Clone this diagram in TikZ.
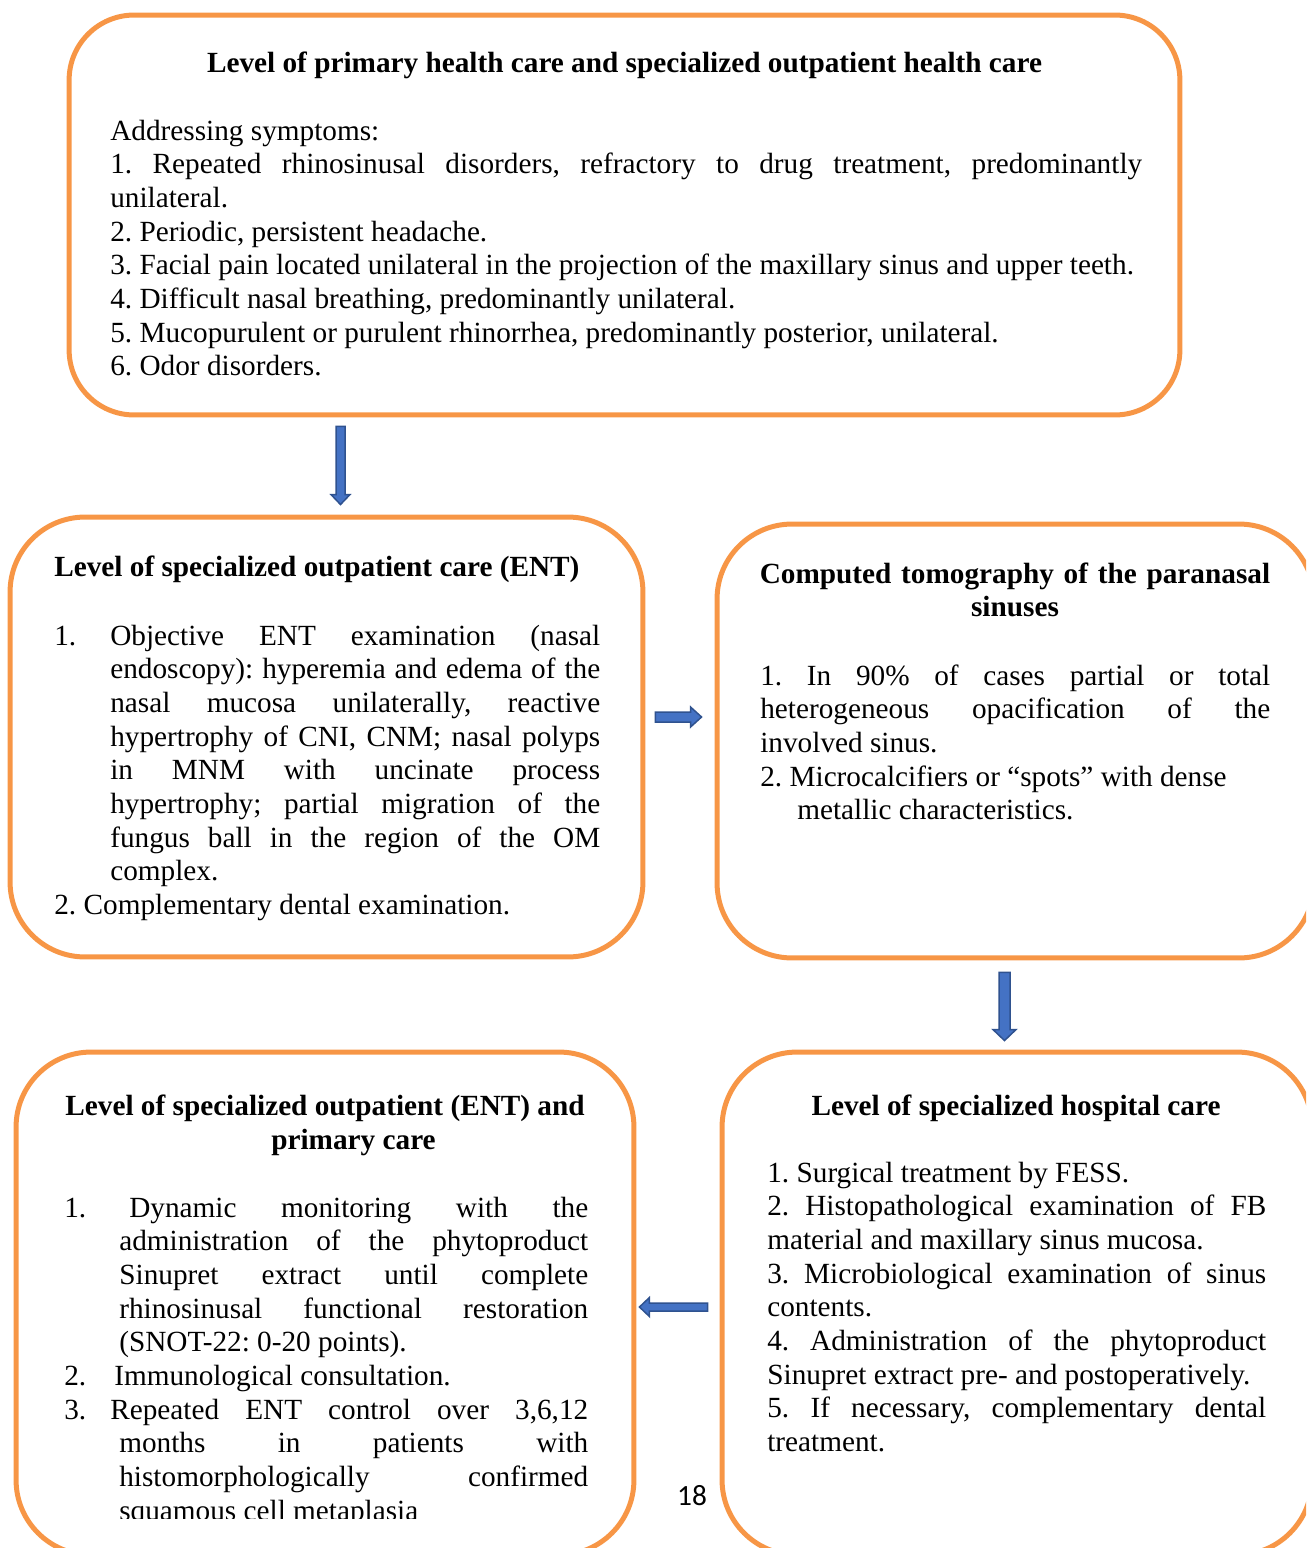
\documentclass[tikz,border=0pt]{standalone}
\usepackage{fontspec}
\setmainfont{Liberation Serif}
\newfontfamily\pagenumfont{Carlito}
\usetikzlibrary{calc, positioning}
\definecolor{boxorange}{HTML}{F79646}
\definecolor{arrowfill}{HTML}{4472C4}
\definecolor{arrowedge}{HTML}{2F528F}
\newcommand{\bodysize}{\fontsize{16.65}{19.18}\selectfont}
\tolerance=10000
\hbadness=10000
\frenchspacing

% block arrow: from, to, shaft half width, head half width, head length
\newcommand{\blockarrow}[5]{%
  \coordinate (ba-a) at #1;
  \coordinate (ba-b) at #2;
  \coordinate (ba-h) at ($(ba-b)!#5!(ba-a)$);
  \filldraw[arrowbody] ($(ba-a)!#3!90:(ba-b)$) -- ($(ba-h)!#3!90:(ba-b)$)
    -- ($(ba-h)!#4!90:(ba-b)$) -- (ba-b) -- ($(ba-h)!#4!-90:(ba-b)$)
    -- ($(ba-h)!#3!-90:(ba-b)$) -- ($(ba-a)!#3!-90:(ba-b)$) -- cycle;
}

\begin{document}
\begin{tikzpicture}[x=0.02cm, y=-0.02cm, font=\bodysize,
  flowbox/.style={draw=boxorange, line width=0.1cm, rounded corners=1.5cm, inner sep=0pt},
  hd/.style={font=\bodysize\bfseries, inner sep=0pt, anchor=base},
  txt/.style={inner sep=0pt, anchor=base west, align=justify},
  arrowbody/.style={fill=arrowfill, draw=arrowedge, line width=0.85pt, line join=miter}]
\useasboundingbox (0,0) rectangle (1306,1548);
\clip (0,0) rectangle (1306,1548);

% the five levels
\node[flowbox, rounded corners=1.3cm, minimum width=22.22cm, minimum height=8cm] (top) at (624.5,215) {};
\node[flowbox, minimum width=12.66cm, minimum height=8.8cm] (ent) at (326.5,737) {};
\node[flowbox, minimum width=11.94cm, minimum height=8.68cm] (ct) at (1015.5,741) {};
\node[flowbox, minimum width=12.36cm, minimum height=10.06cm] (fu) at (325,1303.5) {};
\node[flowbox, minimum width=11.8cm, minimum height=10.06cm] (hosp) at (1017,1303.5) {};

% primary care
\node[hd] (tophead) at (624.5,72) {Level of primary health care and specialized outpatient health care};
\node[txt, text width=20.64cm] (topbody) at (110,140) {%
Addressing symptoms:\par
1. Repeated rhinosinusal disorders, refractory to drug treatment, predominantly\linebreak unilateral.\par
2. Periodic, persistent headache.\par
3. Facial pain located unilateral in the projection of the maxillary sinus and upper teeth.\par
4. Difficult nasal breathing, predominantly unilateral.\par
5. Mucopurulent or purulent rhinorrhea, predominantly posterior, unilateral.\par
6. Odor disorders.};

% ENT
\node[hd, anchor=base west] (enthead) at (54,576) {Level of specialized outpatient care (ENT)};
\node[txt, text width=9.8cm] (entlist) at (110,645) {%
\leavevmode\llap{\makebox[1.12cm][l]{1.}}Objective ENT examination (nasal\linebreak
endoscopy): hyperemia and edema of the\linebreak
nasal mucosa unilaterally, reactive\linebreak
hypertrophy of CNI, CNM; nasal polyps\linebreak
in MNM with uncinate process\linebreak
hypertrophy; partial migration of the\linebreak
fungus ball in the region of the OM\linebreak
complex.\par
\hspace*{-1.12cm}2. Complementary dental examination.};

% CT
\node[hd, text width=11cm, align=center] (cthead) at (1015,583) {Computed tomography of the paranasal\\ sinuses};
\node[txt, text width=10.2cm] (ctbody) at (760,685) {%
1. In 90\% of cases partial or total\linebreak
heterogeneous opacification of the\linebreak
involved sinus.\par
2. Microcalcifiers or “spots” with dense\newline
\hspace*{0.74cm}metallic characteristics.};

% hospital
\node[hd] (hosphead) at (1016,1115) {Level of specialized hospital care};
\node[txt, text width=9.98cm] (hospbody) at (767,1182) {%
1. Surgical treatment by FESS.\par
2. Histopathological examination of FB\linebreak
material and maxillary sinus mucosa.\par
3. Microbiological examination of sinus\linebreak
contents.\par
4. Administration of the phytoproduct\linebreak
Sinupret extract pre- and postoperatively.\par
5. If necessary, complementary dental\linebreak
treatment.};

% follow-up
\node[hd] (fuhead) at (325,1115) {Level of specialized outpatient (ENT) and};
\node[hd] (fuhead2) at (353.5,1149) {primary care};
\begin{scope}
\clip (0,0) rectangle (700,1518);
\node[txt, text width=9.38cm] (fulist) at (119,1217) {%
\leavevmode\llap{\makebox[1.1cm][l]{1.}}\hspace*{0.2cm}Dynamic monitoring with the\linebreak
administration of the phytoproduct\linebreak
Sinupret extract until complete\linebreak
rhinosinusal functional restoration\linebreak
(SNOT-22: 0-20 points).\par
\leavevmode\llap{\makebox[1.1cm][l]{2.}}\hspace*{-0.1cm}Immunological consultation.\par
\leavevmode\llap{\makebox[1.1cm][l]{3.}}\hspace*{-0.18cm}Repeated ENT control over 3,6,12\linebreak
months in patients with\linebreak
histomorphologically confirmed\linebreak
squamous cell metaplasia};
\end{scope}

\node[font=\pagenumfont\fontsize{16.7}{20}\selectfont, inner sep=0pt] (pagenum) at (692,1496) {18};

% arrows
\blockarrow{($(top.south)+(-284,9)$)}{($(ent.north)+(14,-10)$)}{0.09cm}{0.19cm}{0.2cm}
\blockarrow{($(ent.east)+(10,-20)$)}{($(ct.west)+(-13,-24)$)}{0.1cm}{0.2cm}{0.22cm}
\blockarrow{($(ct.south)+(-11,12)$)}{($(hosp.north)+(-12.5,-9)$)}{0.11cm}{0.23cm}{0.22cm}
\blockarrow{($(hosp.west)+(-12,3.5)$)}{($(fu.east)+(3,3.5)$)}{0.08cm}{0.19cm}{0.2cm}
\end{tikzpicture}
\end{document}
